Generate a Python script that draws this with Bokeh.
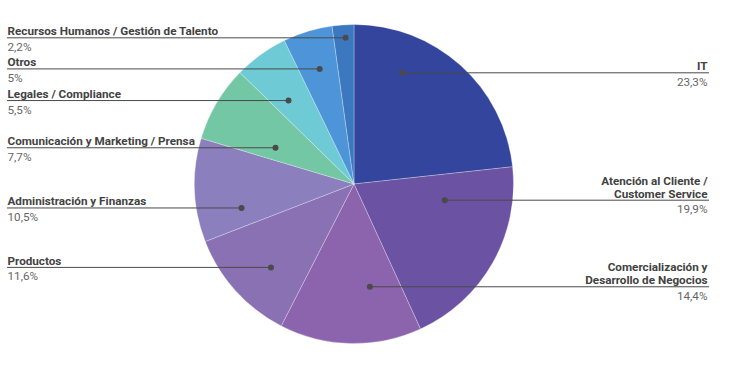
import numpy as np
from bokeh.plotting import figure
from bokeh.models import Range1d
from bokeh.embed import file_html
from bokeh.resources import INLINE
from bokeh.core.properties import value

# ---- data ----
categories = [
    "IT",
    "Atención al Cliente / Customer Service",
    "Comercialización y Desarrollo de Negocios",
    "Productos",
    "Administración y Finanzas",
    "Comunicación y Marketing / Prensa",
    "Legales / Compliance",
    "Otros",
    "Recursos Humanos / Gestión de Talento",
]
label_lines = [
    ["IT"],
    ["Atención al Cliente /", "Customer Service"],
    ["Comercialización y", "Desarrollo de Negocios"],
    ["Productos"],
    ["Administración y Finanzas"],
    ["Comunicación y Marketing / Prensa"],
    ["Legales / Compliance"],
    ["Otros"],
    ["Recursos Humanos / Gestión de Talento"],
]
values = [23.3, 19.9, 14.4, 11.6, 10.5, 7.7, 5.5, 5.0, 2.2]
pct_labels = ["23,3%", "19,9%", "14,4%", "11,6%", "10,5%", "7,7%", "5,5%", "5%", "2,2%"]

# ---- styles / layout ----
colors = ["#33459c", "#6b52a3", "#8c63ad", "#8a71b4", "#8b7fbe",
          "#74c7a4", "#6ecbd6", "#4d95d8", "#3c78c0"]
dot_t = [0.28, 0.228, 0.306, 0.425, 0.241, 0.294, 0.382, 0.516, 0.583]
dot_r = [0.76, 0.578, 0.652, 0.738, 0.721, 0.542, 0.665, 0.753, 0.918]

W, H = 730, 368
CX, CY, R = 353.5, H - 183.5, 159.5
LEFT_X, RIGHT_X = 7, 707
FONT = value("Roboto")
FS = "11.7px"
NAME_COLOR = "#424242"
PCT_COLOR = "#666666"
LINE_COLOR = "#4a4a4a"

p = figure(width=714, height=352, output_backend="svg", toolbar_location=None,
           x_range=Range1d(0, 714), y_range=Range1d(16, 368), min_border=0)
p.axis.visible = False
p.grid.visible = False
p.outline_line_color = None
p.background_fill_color = "white"

vals = np.array(values, dtype=float)
frac = vals / vals.sum()
cum = np.concatenate([[0.0], np.cumsum(frac)]) * 2 * np.pi
a0, a1 = cum[:-1], cum[1:]

p.wedge(x=CX, y=CY, radius=R,
        start_angle=list(np.pi / 2 - a0), end_angle=list(np.pi / 2 - a1),
        direction="clock", fill_color=colors, line_color="white",
        line_width=0.8, line_alpha=0.35)

for i in range(len(values)):
    th = a0[i] + dot_t[i] * (a1[i] - a0[i])
    dx = dot_r[i] * R * np.sin(th)
    dy = dot_r[i] * R * np.cos(th)
    x_dot, y_dot = CX + dx, CY + dy
    right = th < np.pi
    if right:
        p.line([x_dot, RIGHT_X + 1.5], [y_dot, y_dot], line_color=LINE_COLOR, line_width=1)
        tx, align = RIGHT_X, "right"
    else:
        p.line([LEFT_X - 0.5, x_dot], [y_dot, y_dot], line_color=LINE_COLOR, line_width=1)
        tx, align = LEFT_X, "left"
    p.scatter([x_dot], [y_dot], size=6, fill_color=LINE_COLOR, line_color=None)
    lines = label_lines[i]
    n = len(lines)
    for k, txt in enumerate(lines):
        yb = y_dot + 6.5 + (n - 1 - k) * 13
        p.text(x=[tx], y=[yb], text=[txt], text_font=FONT, text_font_size=FS,
               text_font_style="bold", text_color=NAME_COLOR, text_align=align,
               text_baseline="alphabetic")
    p.text(x=[tx], y=[y_dot - 9], text=[pct_labels[i]], text_font=FONT,
           text_font_size=FS, text_color=PCT_COLOR, text_align=align,
           text_baseline="alphabetic")

open("out.html", "w").write(file_html(p, INLINE))
